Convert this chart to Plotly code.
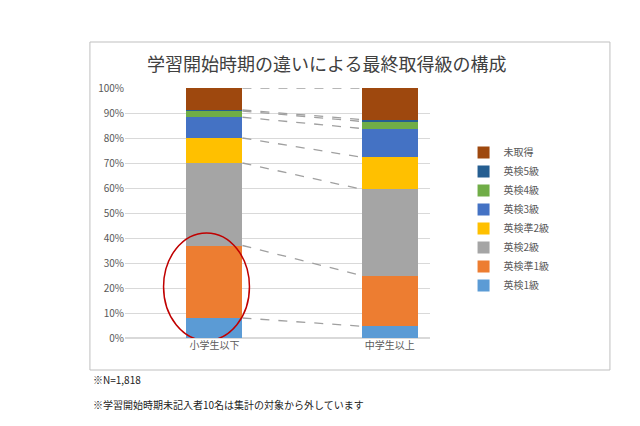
import numpy as np
import plotly.graph_objects as go

groups = ['小学生以下', '中学生以上']
grades = ['英検1級', '英検準1級', '英検2級', '英検準2級', '英検3級', '英検4級', '英検5級', '未取得']
colors = ['#5B9BD5', '#ED7D31', '#A5A5A5', '#FFC000', '#4472C4', '#70AD47', '#255E91', '#9E480E']
elem = [8.0, 29.0, 33.0, 10.0, 8.3, 2.5, 0.4, 8.8]
junior = [4.7, 20.3, 34.5, 12.8, 11.5, 2.8, 0.8, 12.6]

W = 0.32
fig = go.Figure()
for name, c, a, b in zip(grades, colors, elem, junior):
    fig.add_trace(go.Bar(x=[0, 1], y=[a, b], name=name, marker=dict(color=c, line=dict(width=0)),
                         width=W))

# 破線の接続線
ca, cb = np.cumsum(elem), np.cumsum(junior)
for i in range(len(grades)):
    fig.add_shape(type='line', xref='x', yref='y', x0=W/2, x1=1-W/2, y0=ca[i], y1=cb[i],
                  line=dict(color='#A0A0A0', width=1.3, dash='dash'))

# 赤い楕円
fig.add_shape(type='circle', xref='x', yref='y', x0=-0.29, x1=0.2, y0=-1, y1=42,
              line=dict(color='#C00000', width=1.5))
# 枠
fig.add_shape(type='rect', xref='paper', yref='paper', x0=-0.115, x1=1.59, y0=-0.128, y1=1.184,
              line=dict(color='#BFBFBF', width=1))

fig.add_annotation(text='学習開始時期の違いによる最終取得級の構成', xref='paper', yref='paper',
                   x=0.66, y=1.16, showarrow=False, font=dict(size=18, color='#404040'))
fig.add_annotation(text='※N=1,818', xref='paper', yref='paper', x=-0.11, y=-0.205,
                   xanchor='left', showarrow=False, font=dict(size=10, color='#222'))
fig.add_annotation(text='※学習開始時期未記入者10名は集計の対象から外しています', xref='paper', yref='paper',
                   x=-0.11, y=-0.305, xanchor='left', showarrow=False, font=dict(size=10, color='#222'))

fig.update_layout(
    barmode='stack', width=640, height=426, margin=dict(l=117, r=218, t=80, b=96),
    paper_bgcolor='white', plot_bgcolor='white', bargap=0,
    font=dict(family='Noto Sans CJK JP', color='#595959'),
    showlegend=True,
    legend=dict(traceorder='reversed', x=1.11, y=0.8, yanchor='top', font=dict(size=10),
                itemwidth=30, tracegroupgap=0),
    xaxis=dict(tickmode='array', tickvals=[0, 1], ticktext=groups, range=[-0.51, 1.23],
               tickfont=dict(size=10), showline=False),
    yaxis=dict(range=[0, 100], dtick=10, ticksuffix='%', gridcolor='#D9D9D9',
               tickfont=dict(size=10), zeroline=True, zerolinecolor='#D9D9D9'),
)
fig.write_html('out.html')
